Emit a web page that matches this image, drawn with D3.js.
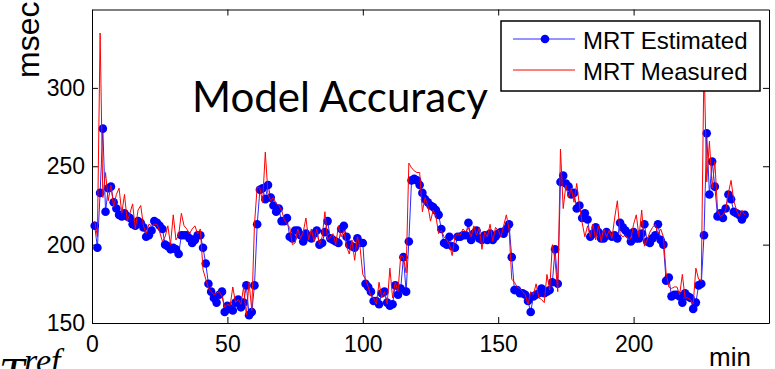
<!DOCTYPE html>
<html>
<head>
<meta charset="utf-8">
<script src="https://cdn.jsdelivr.net/npm/d3@7"></script>
<style>
  body { margin: 0; background: #fff; }
  svg { display: block; }
  .axis text { font-family: "Liberation Sans", Arial, sans-serif; font-size: 23px; fill: #000; }
  .axis path, .axis line { stroke: #000; }
  .label { font-family: "Liberation Sans", Arial, sans-serif; fill: #000; }
</style>
</head>
<body>
<svg id="chart" width="775" height="369"></svg>
<script>
// one sample per minute, starting at minute 1
const firstMinute = 1;

const estimated = [
  212, 198, 233, 274, 221, 236, 237, 227, 223, 219,
  218, 220, 218, 217, 213, 212, 215, 214, 211, 205,
  206, 209, 215, 214, 212, 210, 200, 199, 197, 198,
  197, 194, 206, 206, 206, 204, 201, 203, 206, 206,
  198, 188, 175, 170, 166, 163, 168, 170, 157, 161,
  159, 158, 163, 165, 160, 163, 174, 155, 157, 174,
  213, 235, 236, 229, 238, 230, 225, 221, 223, 215,
  215, 217, 205, 204, 209, 209, 206, 202, 207, 205,
  204, 207, 209, 200, 201, 208, 215, 204, 203, 202,
  201, 210, 212, 205, 200, 199, 198, 204, 201, 201,
  175, 173, 170, 164, 164, 162, 169, 170, 163, 161,
  162, 174, 168, 172, 192, 170, 202, 241, 242, 241,
  238, 233, 229, 227, 225, 224, 222, 219, 210, 201,
  200, 205, 199, 198, 205, 205, 206, 206, 214, 203,
  207, 209, 204, 203, 206, 203, 207, 203, 205, 207,
  208, 207, 210, 213, 192, 171, 171, 169, 169, 168,
  164, 157, 167, 168, 169, 172, 169, 170, 171, 176,
  197, 175, 240, 244, 239, 237, 232, 233, 223, 225,
  217, 220, 216, 205, 207, 211, 208, 204, 204, 208,
  206, 205, 206, 204, 214, 211, 209, 207, 202, 208,
  204, 204, 207, 213, 202, 201, 204, 206, 213, 203,
  200, 177, 179, 167, 168, 168, 167, 163, 169, 167,
  166, 159, 163, 174, 175, 206, 271, 232, 253, 237,
  218, 220, 217, 223, 232, 229, 221, 220, 219, 216,
  219
];

const measured = [
  215, 205, 335, 230, 246, 228, 238, 224, 232, 236,
  220, 232, 215, 220, 226, 210, 222, 225, 212, 207,
  213, 212, 213, 213, 208, 202, 205, 212, 200, 219,
  203, 206, 220, 212, 210, 207, 210, 212, 207, 210,
  184, 178, 172, 170, 168, 169, 170, 167, 160, 162,
  161, 173, 163, 165, 162, 173, 155, 176, 158, 213,
  237, 236, 227, 259, 232, 228, 230, 226, 225, 222,
  216, 213, 211, 200, 201, 210, 204, 208, 217, 203,
  210, 202, 210, 200, 205, 221, 203, 205, 207, 200,
  212, 205, 209, 199, 194, 203, 190, 205, 198, 181,
  178, 173, 167, 166, 162, 176, 166, 170, 162, 185,
  166, 176, 170, 193, 192, 182, 252, 249, 247, 246,
  246, 221, 230, 225, 215, 222, 218, 207, 209, 205,
  203, 200, 193, 205, 207, 206, 210, 208, 211, 205,
  212, 206, 211, 197, 208, 205, 213, 202, 211, 209,
  205, 212, 219, 210, 178, 176, 173, 172, 170, 168,
  162, 170, 168, 175, 166, 165, 163, 181, 171, 200,
  190, 170, 261, 223, 238, 230, 236, 227, 239, 225,
  214, 205, 212, 205, 213, 203, 212, 202, 210, 205,
  209, 204, 217, 228, 207, 205, 206, 203, 204, 213,
  219, 205, 222, 199, 203, 208, 211, 213, 207, 210,
  205, 182, 173, 172, 173, 173, 168, 181, 166, 166,
  165, 162, 185, 178, 177, 318, 240, 266, 236, 253,
  222, 218, 219, 222, 233, 241, 228, 222, 218, 222,
  219
];

const xTicks = [0, 50, 100, 150, 200];
const yTicks = [150, 200, 250, 300];
const seriesNames = ['MRT Estimated', 'MRT Measured'];

const margin = { top: 9.5, right: 6, bottom: 46, left: 92 };
const width = 775 - margin.left - margin.right;
const height = 369 - margin.top - margin.bottom;

const svg = d3.select('#chart')
  .append('g')
  .attr('transform', `translate(${margin.left},${margin.top})`);

const x = d3.scaleLinear().domain([0, 250]).range([0, width]);
const y = d3.scaleLinear().domain([150, 350]).range([height, 0]);

// matlab style box with inward ticks on all sides
svg.append('g')
  .attr('class', 'axis')
  .attr('transform', `translate(0,${height})`)
  .call(d3.axisBottom(x).tickValues(xTicks).tickSizeInner(-6).tickSizeOuter(0).tickPadding(13));

svg.append('g')
  .attr('class', 'axis')
  .call(d3.axisLeft(y).tickValues(yTicks).tickSizeInner(-6).tickSizeOuter(0).tickPadding(7));

svg.append('g')
  .attr('class', 'axis')
  .call(d3.axisTop(x).tickValues(xTicks).tickSizeInner(-6).tickSizeOuter(0).tickFormat(''));

svg.append('g')
  .attr('class', 'axis')
  .attr('transform', `translate(${width},0)`)
  .call(d3.axisRight(y).tickValues(yTicks).tickSizeInner(-6).tickSizeOuter(0).tickFormat(''));

const line = d3.line()
  .x((d, i) => x(firstMinute + i))
  .y(d => y(d));

svg.append('path')
  .datum(estimated)
  .attr('fill', 'none')
  .attr('stroke', '#2a2aff')
  .attr('stroke-width', 1)
  .attr('d', line);

svg.selectAll('.dot')
  .data(estimated)
  .enter().append('circle')
  .attr('class', 'dot')
  .attr('cx', (d, i) => x(firstMinute + i))
  .attr('cy', d => y(d))
  .attr('r', 4.3)
  .attr('fill', '#0000ff');

svg.append('path')
  .datum(measured)
  .attr('fill', 'none')
  .attr('stroke', '#ff0000')
  .attr('stroke-width', 1)
  .attr('d', line);

// title inside the plot
svg.append('text')
  .attr('x', 100)
  .attr('y', 102)
  .attr('textLength', 296)
  .attr('lengthAdjust', 'spacingAndGlyphs')
  .style('font-family', 'Lato, "DejaVu Sans", sans-serif')
  .style('font-size', '42px')
  .text('Model Accuracy');

// legend
const legend = svg.append('g').attr('transform', 'translate(409,11.5)');
legend.append('rect')
  .attr('width', 259)
  .attr('height', 70)
  .attr('fill', '#fff')
  .attr('stroke', '#000')
  .attr('stroke-width', 1.5);

const rows = legend.selectAll('.row')
  .data(seriesNames)
  .enter().append('g')
  .attr('transform', (d, i) => `translate(0,${18 + i * 31})`);

rows.append('line')
  .attr('x1', 12).attr('x2', 74)
  .attr('stroke', (d, i) => i === 0 ? '#2a2aff' : '#ff0000')
  .attr('stroke-width', 1);

rows.filter((d, i) => i === 0).append('circle')
  .attr('cx', 44).attr('r', 4.3).attr('fill', '#0000ff');

rows.append('text')
  .attr('class', 'label')
  .attr('x', 82)
  .attr('y', 10)
  .style('font-size', '24px')
  .text(d => d);

// axis labels
d3.select('#chart').append('text')
  .attr('class', 'label')
  .attr('transform', 'translate(39,78) rotate(-90)')
  .style('font-size', '32px')
  .text('msec');

d3.select('#chart').append('text')
  .attr('class', 'label')
  .attr('x', 730)
  .attr('y', 366)
  .attr('text-anchor', 'middle')
  .style('font-size', '26px')
  .text('min');

// T^ref label in the lower left corner, cut by the frame as in the source
const tref = d3.select('#chart').append('text')
  .style('font-family', '"Liberation Serif", "Times New Roman", serif')
  .style('font-style', 'italic');
tref.append('tspan').attr('x', -1).attr('y', 388).style('font-size', '45px').text('T');
tref.append('tspan').attr('x', 24).attr('y', 372).style('font-size', '34px').text('ref');
</script>
</body>
</html>
